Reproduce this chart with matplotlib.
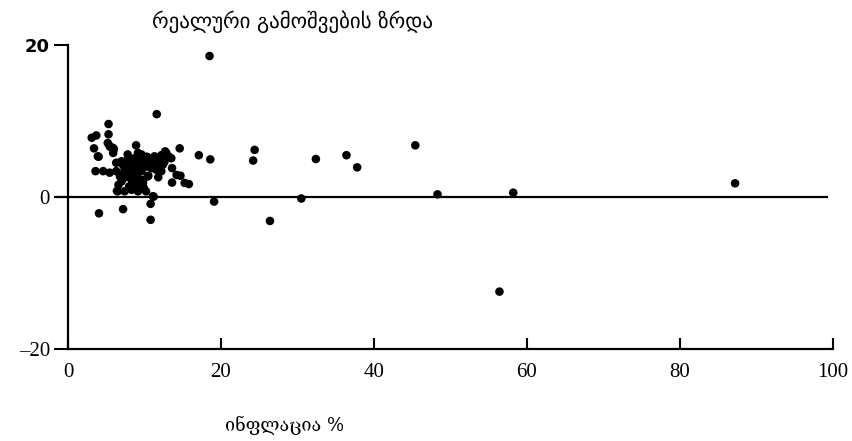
import matplotlib
matplotlib.use("Agg")
import matplotlib.pyplot as plt

# inflation (%) vs real output growth, one dot per country
inflation = [
    18.5, 11.6, 5.3, 5.3, 3.7, 3.4, 4.0, 5.5, 8.9, 12.7, 14.6, 17.1, 18.6,
    3.6, 13.6, 14.7, 15.8, 13.6, 4.05, 7.2, 10.8, 10.8, 11.2, 6.4,
    24.4, 24.2, 19.1, 26.4, 30.5, 32.4, 36.4, 37.8, 45.4, 48.3, 58.2,
    56.4, 87.2,
    3.9, 5.45, 5.9, 4.6, 5.45, 6.3, 7.0, 7.4, 7.85, 8.7, 9.15, 10.0, 10.9,
    11.3, 12.0, 12.4, 12.85, 13.5, 14.2, 8.3, 8.7, 9.15, 9.6, 9.8, 8.7,
    7.0, 6.5, 7.4, 8.3, 9.15, 10.2, 11.1, 8.3, 6.3, 10.2, 10.9, 11.5,
    12.2, 5.2, 3.1, 5.9, 15.25, 6.0, 13.2, 9.5, 10.5, 11.8, 6.8, 7.9,
    9.9, 8.0, 7.6,
    7.7, 8.5, 9.3, 10.6, 11.6, 12.6, 6.8, 7.5, 8.1, 9.0, 9.8, 10.4,
    11.0, 7.2, 8.9, 9.6, 10.3, 6.6, 8.4, 9.4, 12.2, 11.6, 7.8, 8.6,
]
growth = [
    18.55, 10.9, 9.6, 8.25, 8.1, 6.4, 5.3, 6.6, 6.8, 6.0, 6.4, 5.5, 4.95,
    3.4, 3.8, 2.8, 1.7, 1.9, -2.15, -1.6, -0.9, -3.0, 0.05, 0.8,
    6.2, 4.8, -0.6, -3.15, -0.2, 5.0, 5.5, 3.9, 6.8, 0.35, 0.57,
    -12.45, 1.8,
    5.35, 6.7, 5.8, 3.4, 3.2, 4.5, 4.7, 3.6, 5.1, 5.1, 5.8, 4.9, 5.1,
    5.35, 4.9, 4.25, 5.8, 5.1, 2.9, 3.8, 2.9, 2.5, 3.4, 1.85, 1.6,
    2.05, 0.75, 0.75, 0.95, 0.75, 0.75, 0.1, 2.3, 3.4, 4.0, 3.8, 3.6,
    3.4, 7.1, 7.8, 6.45, 1.85, 6.3, 5.3, 4.3, 2.8, 2.6, 2.7, 4.2,
    1.2, 1.4, 3.0,
    4.0, 4.4, 4.6, 4.5, 4.3, 4.6, 2.9, 2.6, 3.3, 3.9, 2.2, 2.7,
    4.6, 4.2, 4.9, 5.6, 5.3, 1.6, 1.3, 1.5, 5.5, 3.9, 5.6, 3.5,
]

x_ticks = [0, 20, 40, 60, 80, 100]
y_ticks = [-20, 0, 20]
title = "რეალური გამოშვების ზრდა"
x_label = "ინფლაცია %"

fig = plt.figure(figsize=(8.53, 4.41), dpi=100)
ax = fig.add_axes([68 / 853, 92 / 441, 765 / 853, 304 / 441])

ax.scatter(inflation, growth, s=38, color="black", edgecolors="none",
           zorder=3, clip_on=False)

# zero growth line, runs a little past the y axis
ax.plot([-1.5, 99.2], [0, 0], color="black", lw=1.6, clip_on=False, zorder=2)

ax.set_xlim(0, 100)
ax.set_ylim(-20, 20)
for side in ("top", "right"):
    ax.spines[side].set_visible(False)
ax.spines["left"].set_linewidth(1.6)
ax.spines["bottom"].set_linewidth(1.6)

ax.set_xticks(x_ticks)
ax.set_xticklabels([str(v) for v in x_ticks], fontfamily="Liberation Serif",
                   fontsize=15)
ax.tick_params(axis="x", direction="in", length=8, width=1.5, pad=10)

ax.set_yticks(y_ticks)
ax.set_yticklabels([str(v).replace("-", "\u2013") for v in y_ticks],
                   fontfamily="Liberation Serif", fontsize=15)
ax.tick_params(axis="y", direction="out", length=10, width=1.5, pad=3)
top_lbl = ax.get_yticklabels()[-1]
top_lbl.set_fontfamily("DejaVu Sans")
top_lbl.set_fontweight("bold")
top_lbl.set_fontsize(13)

fig.text(293 / 853, 1 - 22 / 441, title, ha="center", va="center",
         fontfamily="DejaVu Sans", fontsize=15)
fig.text(285 / 853, 1 - 425 / 441, x_label, ha="center", va="center",
         fontfamily="DejaVu Serif", fontsize=13)

fig.savefig("out.png", dpi=100)
